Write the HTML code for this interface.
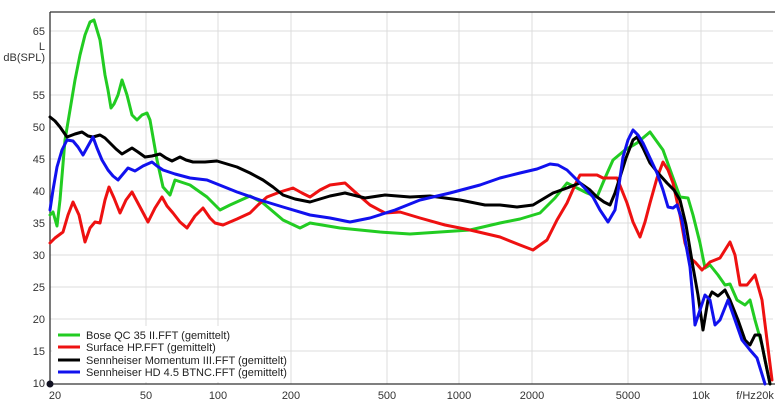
<!DOCTYPE html>
<html><head><meta charset="utf-8"><style>
html,body{margin:0;padding:0;background:#fff;}
svg{display:block;font-family:"Liberation Sans",sans-serif;font-size:11px;}
</style></head><body>
<svg width="780" height="404" viewBox="0 0 780 404" xmlns="http://www.w3.org/2000/svg">
<rect width="780" height="404" fill="#fff"/>
<g stroke="#dcdcdc" stroke-width="1">
<line x1="146" y1="12" x2="146" y2="384"/><line x1="218" y1="12" x2="218" y2="384"/>
<line x1="291" y1="12" x2="291" y2="384"/><line x1="387" y1="12" x2="387" y2="384"/>
<line x1="459" y1="12" x2="459" y2="384"/><line x1="532" y1="12" x2="532" y2="384"/>
<line x1="628" y1="12" x2="628" y2="384"/><line x1="701" y1="12" x2="701" y2="384"/>
<line x1="50" y1="31" x2="773" y2="31"/><line x1="50" y1="63" x2="773" y2="63"/>
<line x1="50" y1="95" x2="773" y2="95"/><line x1="50" y1="127" x2="773" y2="127"/>
<line x1="50" y1="159" x2="773" y2="159"/><line x1="50" y1="191" x2="773" y2="191"/>
<line x1="50" y1="223" x2="773" y2="223"/><line x1="50" y1="255" x2="773" y2="255"/>
<line x1="50" y1="287" x2="773" y2="287"/><line x1="50" y1="319" x2="773" y2="319"/>
<line x1="50" y1="351" x2="773" y2="351"/>
</g>
<g stroke="#333" stroke-width="1.3" fill="none">
<line x1="50" y1="12" x2="775" y2="12"/>
<line x1="50" y1="12" x2="50" y2="384"/>
<line x1="50" y1="384" x2="775" y2="384"/>
</g>
<g fill="none" stroke-width="3" stroke-linejoin="round" stroke-linecap="round">
<polyline stroke="#22cc22" points="50,215 53,212 57,226 60,200 65,140 70,110 75,80 80,55 85,35 90,22 94,20 100,40 105,75 108,90 111,108 114,104 118,95 122,80 127,95 132,115 137,120 142,115 147,113 150,120 157,160 163,187 170,195 175,180 190,185 207,197 220,210 230,205 250,196 263,203 283,220 300,228 310,223 340,228 380,232 410,234 440,232 470,230 500,223 520,219 540,213 555,198 567,183 587,193 597,197 605,178 613,160 625,150 637,143 650,132 663,150 672,175 680,197 688,198 693,215 700,243 705,268 710,265 718,275 725,285 730,284 737,300 745,305 750,300 755,320 762,345 770,384"/>
<polyline stroke="#ee1111" points="50,243 55,238 63,232 68,215 73,202 79,215 85,242 90,228 95,222 100,223 105,200 109,187 114,198 120,213 126,200 132,192 140,207 148,222 155,208 162,197 167,206 173,213 180,222 187,228 195,216 203,208 210,218 215,223 223,225 237,219 250,213 258,205 267,197 280,192 293,188 302,193 310,197 320,190 330,185 345,183 355,192 370,205 385,213 400,212 420,218 445,225 470,230 500,237 520,245 533,250 547,240 557,220 567,203 575,185 580,175 597,175 603,178 617,178 627,203 633,222 640,237 645,222 650,203 657,178 663,162 668,170 673,183 680,215 685,243 690,258 695,262 702,270 710,262 720,258 730,242 735,255 740,285 747,285 755,275 762,300 772,380"/>
<polyline stroke="#000" points="50,117 55,121 60,127 67,137 75,134 82,132 88,136 93,137 100,135 105,138 110,143 116,149 122,154 127,151 132,148 138,152 145,157 152,156 160,154 166,158 172,161 176,159 180,157 186,160 193,162 205,162 217,161 237,167 250,173 263,180 273,187 283,195 295,199 310,202 330,196 345,193 365,198 385,195 410,197 430,196 460,200 485,205 500,205 517,207 533,205 553,193 567,188 580,183 590,190 597,197 604,202 610,205 615,193 620,177 626,158 633,140 637,137 643,148 650,163 658,173 667,183 674,190 680,200 686,225 693,267 698,295 703,330 708,300 712,292 718,296 725,290 730,300 738,320 745,340 750,345 755,335 760,335 765,360 770,384"/>
<polyline stroke="#1111ee" points="50,210 53,190 57,167 62,150 67,140 73,141 78,147 83,155 88,146 93,137 97,148 102,160 108,170 113,176 118,180 123,174 128,168 135,171 143,166 152,162 157,166 163,170 175,174 190,178 207,180 222,186 237,192 260,200 283,207 310,215 330,218 350,222 370,218 395,210 420,200 450,193 480,185 500,178 520,173 537,169 550,164 558,165 567,170 580,183 593,197 600,210 608,222 615,210 619,185 623,157 628,140 633,130 638,135 643,143 650,158 657,173 663,190 668,207 673,208 677,205 682,220 686,245 690,267 693,300 695,325 700,310 705,295 710,300 715,325 720,320 728,300 735,320 742,340 750,350 757,358 765,384"/>
</g>
<rect x="52" y="326" width="228" height="56" fill="#fff"/>
<g stroke-width="3">
<line x1="58" y1="335" x2="80" y2="335" stroke="#22cc22"/>
<line x1="58" y1="347" x2="80" y2="347" stroke="#ee1111"/>
<line x1="58" y1="360" x2="80" y2="360" stroke="#000"/>
<line x1="58" y1="372" x2="80" y2="372" stroke="#1111ee"/>
</g>
<g fill="#222">
<text x="86" y="339">Bose QC 35 II.FFT (gemittelt)</text>
<text x="86" y="351">Surface HP.FFT (gemittelt)</text>
<text x="86" y="364">Sennheiser Momentum III.FFT (gemittelt)</text>
<text x="86" y="376">Sennheiser HD 4.5 BTNC.FFT (gemittelt)</text>
</g>
<g fill="#333" text-anchor="end">
<text x="45" y="35">65</text>
<text x="45" y="50">L</text>
<text x="45" y="61">dB(SPL)</text>
<text x="45" y="99">55</text><text x="45" y="131">50</text>
<text x="45" y="163">45</text><text x="45" y="195">40</text>
<text x="45" y="227">35</text><text x="45" y="259">30</text>
<text x="45" y="291">25</text><text x="45" y="323">20</text>
<text x="45" y="355">15</text><text x="45" y="387">10</text>
</g>
<g fill="#333" text-anchor="middle">
<text x="55" y="399">20</text><text x="146" y="399">50</text>
<text x="218" y="399">100</text><text x="291" y="399">200</text>
<text x="387" y="399">500</text><text x="459" y="399">1000</text>
<text x="532" y="399">2000</text><text x="628" y="399">5000</text>
<text x="701" y="399">10k</text><text x="746" y="399">f/Hz</text>
<text x="765" y="399">20k</text>
</g>
<circle cx="50" cy="384" r="3.5" fill="#112"/>
</svg>
</body></html>
